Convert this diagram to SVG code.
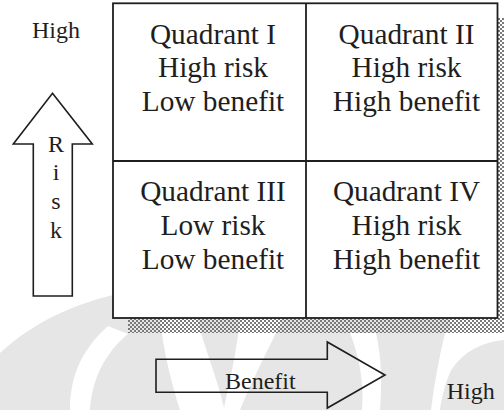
<svg xmlns="http://www.w3.org/2000/svg" width="504" height="410" viewBox="0 0 504 410">
  <defs>
    <!-- fine checker used for the drop shadow of the matrix -->
    <pattern id="checker" patternUnits="userSpaceOnUse" x="0" y="0" width="4" height="4">
      <rect x="0" y="0" width="2" height="2" fill="#7a7a7a"/>
      <rect x="2" y="2" width="2" height="2" fill="#7a7a7a"/>
    </pattern>
    <style>
      .mark { fill: #e6e6e6; }
      .cut { fill: #ffffff; }
      .grid { fill: none; stroke: #1e1e1e; stroke-width: 1.8; }
      .block { fill: none; stroke: #1e1e1e; stroke-width: 1.6; stroke-linejoin: miter; }
      .quad { font-family: "Liberation Serif", "Times New Roman", serif; font-size: 29.3px; fill: #1e1e1e; text-anchor: middle; }
      .axis { font-family: "Liberation Serif", "Times New Roman", serif; font-size: 24px; fill: #1e1e1e; }
    </style>
  </defs>

  <rect width="504" height="410" fill="#ffffff"/>

  <!-- faint background emblem -->
  <g id="emblem">
    <path class="mark" d="M0,353 C25,330 60,308 113,295 L450,295 L450,333 L504,333 L504,410 L0,410 Z"/>
    <path class="cut" d="M70,410 C70,380 79,352 108,326 L128,334 C104,354 92,380 90,410 Z"/>
    <path class="cut" d="M160,318 C163,350 172,385 180,410 L240,410 C252,380 268,350 283,318 Z"/>
    <path class="mark" d="M197,318 L240,318 C237,350 230,380 224,408 C218,380 205,350 197,318 Z"/>
    <path class="cut" d="M350,333 L376,333 C382,360 382,385 380,410 L362,410 C364,385 360,358 350,333 Z"/>
    <path class="cut" d="M445,333 L504,333 L504,340 C480,342 458,355 449,375 C444,388 441,400 440,410 L431,410 C434,385 439,358 445,333 Z"/>
  </g>

  <!-- risk / benefit matrix -->
  <g id="matrix">
    <rect x="128" y="18" width="384" height="315" fill="url(#checker)"/>
    <rect x="113" y="3.3" width="384.5" height="314.7" fill="#ffffff"/>
    <rect class="grid" x="113" y="3.3" width="384.5" height="314.7"/>
    <line class="grid" x1="306" y1="3.3" x2="306" y2="318"/>
    <line class="grid" x1="113" y1="161" x2="497.5" y2="161"/>
  </g>

  <g id="quadrant-1">
    <text class="quad" x="213" y="43.5">Quadrant I</text>
    <text class="quad" x="213" y="77">High risk</text>
    <text class="quad" x="213" y="110.5">Low benefit</text>
  </g>
  <g id="quadrant-2">
    <text class="quad" x="406.5" y="43.5">Quadrant II</text>
    <text class="quad" x="406.5" y="77">High risk</text>
    <text class="quad" x="406.5" y="110.5">High benefit</text>
  </g>
  <g id="quadrant-3">
    <text class="quad" x="213" y="201">Quadrant III</text>
    <text class="quad" x="213" y="235">Low risk</text>
    <text class="quad" x="213" y="269">Low benefit</text>
  </g>
  <g id="quadrant-4">
    <text class="quad" x="406.5" y="201">Quadrant IV</text>
    <text class="quad" x="406.5" y="235">High risk</text>
    <text class="quad" x="406.5" y="269">High benefit</text>
  </g>

  <!-- axis block arrows -->
  <g id="axis-arrows">
    <path class="block" d="M52.5,93.3 L92.3,144 L72.3,144 L72.3,296 L33.3,296 L33.3,144 L13.3,144 Z"/>
    <path class="block" d="M156,359.3 L327.3,359.3 L327.3,342 L385,375 L327.3,408 L327.3,392.3 L156,392.3 Z"/>
  </g>

  <g id="risk-axis">
    <text class="axis" x="32" y="37.7">High</text>
    <text class="axis" x="56" y="151.7" text-anchor="middle">R</text>
    <text class="axis" x="56" y="180.3" text-anchor="middle">i</text>
    <text class="axis" x="56" y="209.3" text-anchor="middle">s</text>
    <text class="axis" x="56" y="238.3" text-anchor="middle">k</text>
  </g>

  <g id="benefit-axis">
    <text class="axis" x="225" y="388.8">Benefit</text>
    <text class="axis" x="446.7" y="398.5">High</text>
  </g>
</svg>
